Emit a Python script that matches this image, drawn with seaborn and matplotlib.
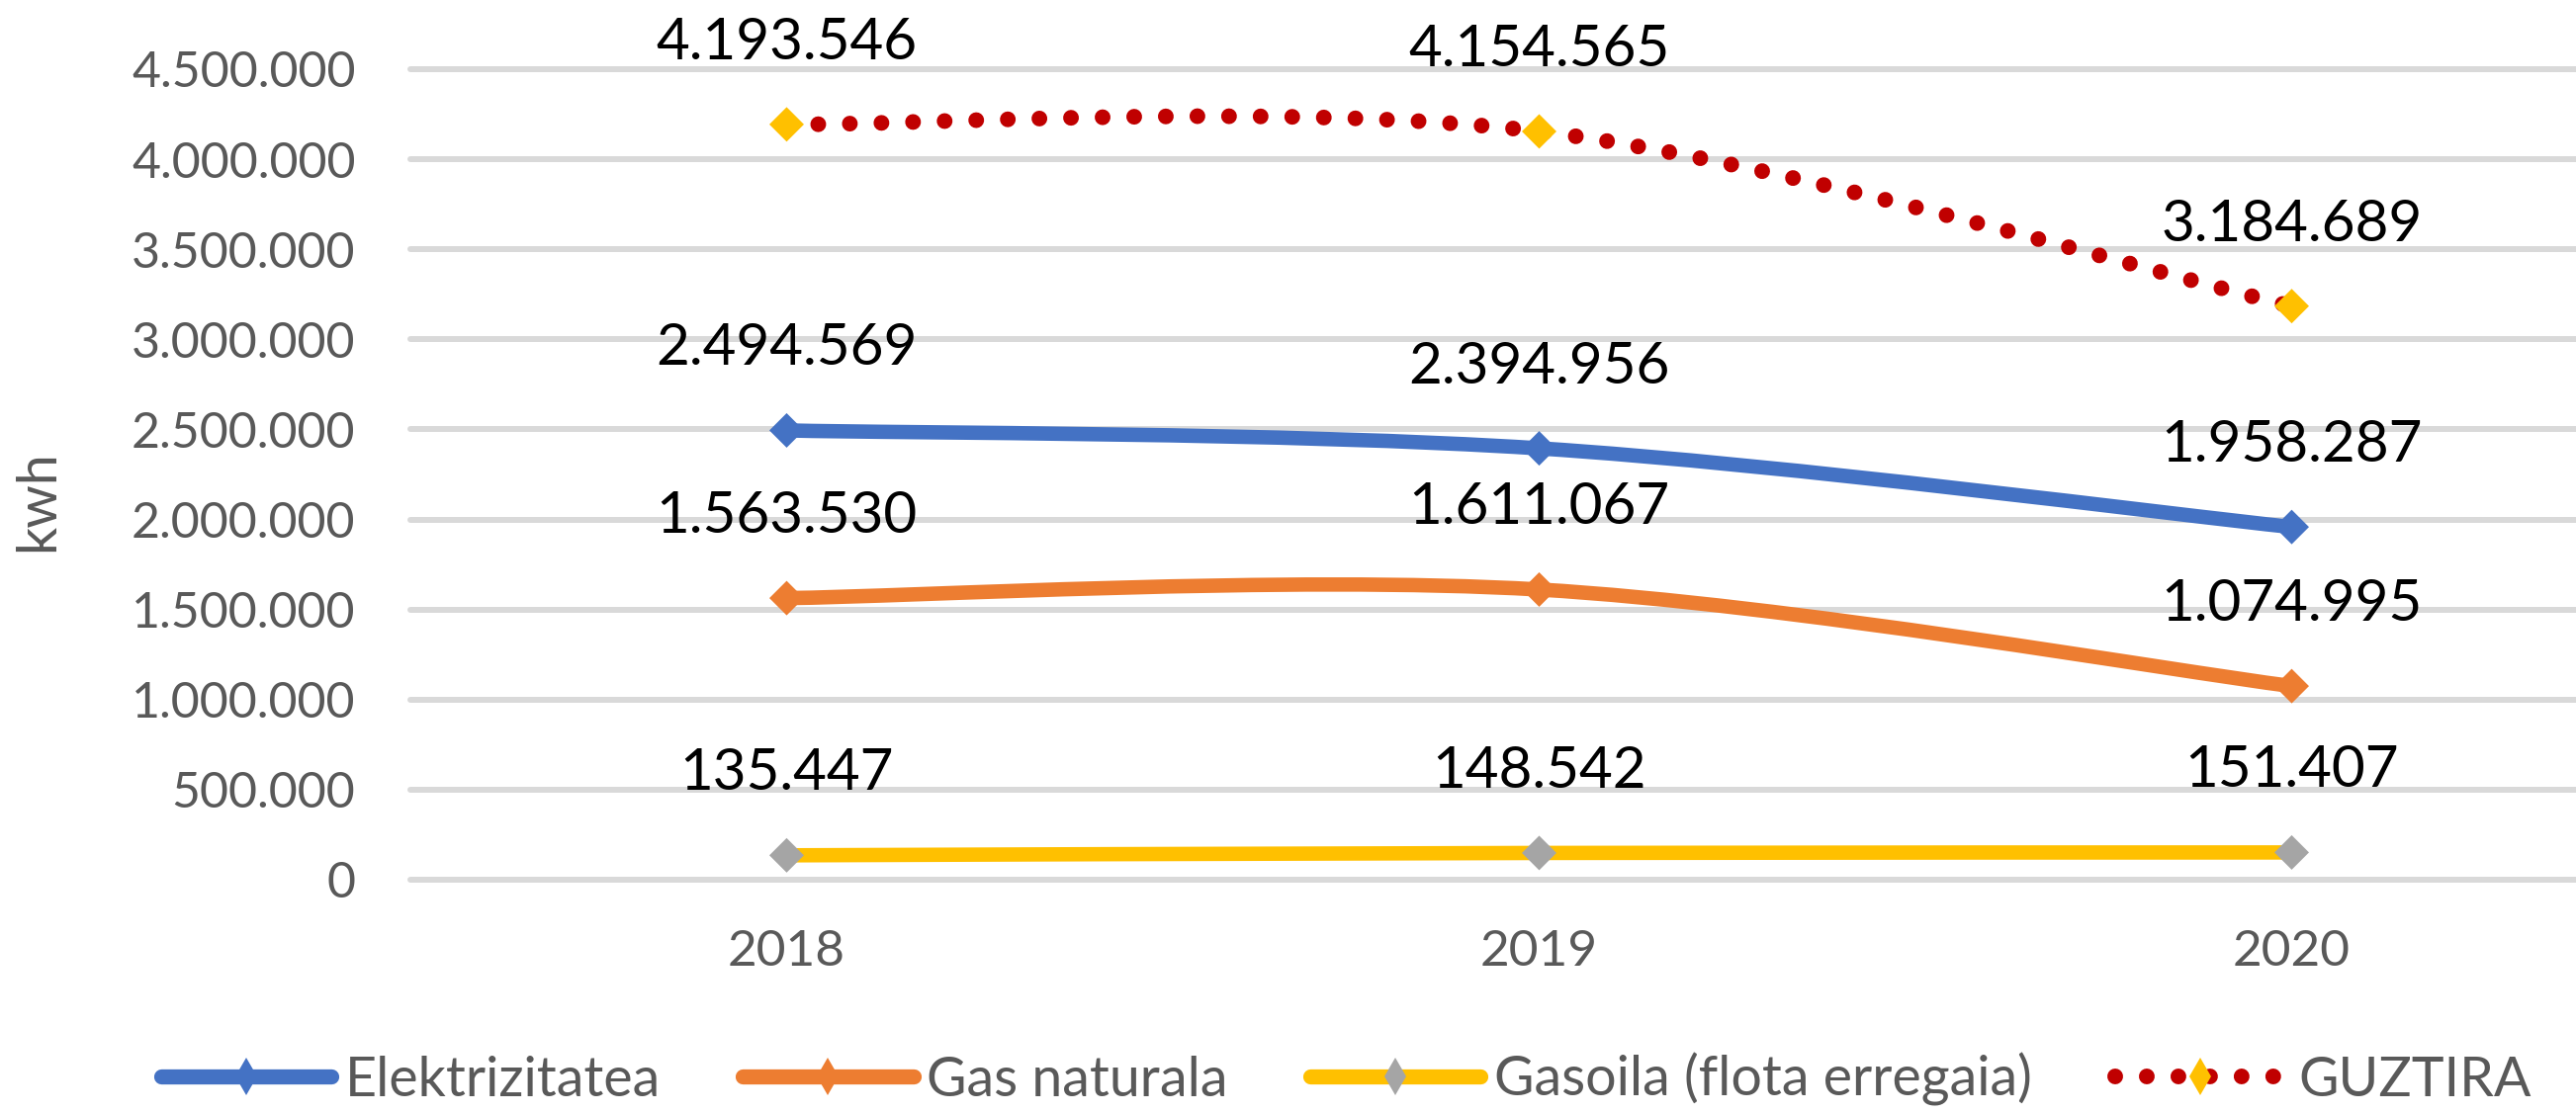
"""
Energia kontsumoa (kwh) 2018-2020 - line chart with smoothed series
"""

import numpy as np
import pandas as pd
import matplotlib
matplotlib.use('Agg')
import matplotlib.pyplot as plt
import seaborn as sns
from matplotlib.path import Path
from matplotlib.patches import PathPatch
from matplotlib.lines import Line2D
from matplotlib.ticker import FuncFormatter, MultipleLocator

# ─────────────────────────────────────────────
# DATA
# ─────────────────────────────────────────────
years = ['2018', '2019', '2020']
elektrizitatea = [2494569, 2394956, 1958287]
gas_naturala = [1563530, 1611067, 1074995]
gasoila = [135447, 148542, 151407]
guztira = [4193546, 4154565, 3184689]

series_names = ['Elektrizitatea', 'Gas naturala', 'Gasoila (flota erregaia)', 'GUZTIRA']
series_values = [elektrizitatea, gas_naturala, gasoila, guztira]

line_colors = ['#4472C4', '#ED7D31', '#FFC000', '#C00000']
marker_colors = ['#4472C4', '#ED7D31', '#A5A5A5', '#FFC000']

df = pd.DataFrame({
    'x': np.tile(np.arange(len(years)), len(series_names)),
    'year': years * len(series_names),
    'series': np.repeat(series_names, len(years)),
    'value': np.concatenate(series_values),
})

sns.set_style('white')
plt.rcParams['font.family'] = ['Lato', 'DejaVu Sans']

fig = plt.figure(figsize=(26.05, 11.26), dpi=100)
ax = fig.add_axes([415 / 2605, 236 / 1126, 2190 / 2605, 820 / 1126])


def smooth_path(xs, ys):
    # Excel-style smoothed line: Catmull-Rom segments as cubic Beziers
    pts = np.column_stack([xs, ys]).astype(float)
    n = len(pts)
    verts, codes = [pts[0]], [Path.MOVETO]
    for i in range(n - 1):
        p0 = pts[max(i - 1, 0)]
        p1 = pts[i]
        p2 = pts[i + 1]
        p3 = pts[min(i + 2, n - 1)]
        verts += [p1 + (p2 - p0) / 6, p2 - (p3 - p1) / 6, p2]
        codes += [Path.CURVE4] * 3
    return Path(verts, codes)


DOTS = (0, (0.001, 2.0))

for name, lc in zip(series_names, line_colors):
    sub = df[df['series'] == name]
    dotted = name == 'GUZTIRA'
    patch = PathPatch(smooth_path(sub['x'], sub['value']), fill=False,
                      edgecolor=lc, lw=11.5 if dotted else 10.5,
                      linestyle=DOTS if dotted else '-',
                      capstyle='round', joinstyle='round', zorder=3)
    ax.add_patch(patch)

sns.scatterplot(data=df, x='x', y='value', hue='series', hue_order=series_names,
                palette=dict(zip(series_names, marker_colors)), marker='D', s=317,
                linewidth=0, legend=False, zorder=4, ax=ax)

# data labels above points
for _, row in df.iterrows():
    ax.annotate(f"{int(row['value']):,}".replace(',', '.'), (row['x'], row['value']),
                xytext=(0, 47.5), textcoords='offset points', ha='center', va='baseline',
                fontsize=42, color='#000000', zorder=5)

# axes styling
ax.set_xlim(-0.5, -0.5 + 2190 / 761)
ax.set_ylim(0, 4500000)
ax.yaxis.set_major_locator(MultipleLocator(500000))
ax.yaxis.set_major_formatter(FuncFormatter(lambda v, p: f"{int(v):,}".replace(',', '.')))
ax.set_xticks(range(len(years)))
ax.set_xticklabels(years)
ax.tick_params(axis='x', length=0, pad=36, labelsize=37, labelcolor='#595959')
ax.tick_params(axis='y', length=0, pad=40, labelsize=36, labelcolor='#595959')
ax.set_xlabel('')
ax.set_ylabel('kwh', fontsize=40, color='#595959')
ax.yaxis.set_label_coords(-0.16, 0.467)

ax.grid(axis='y', color='#D9D9D9', linewidth=4.3)
ax.grid(axis='x', visible=False)
for gl in ax.get_ygridlines():
    gl.set_clip_on(False)
ax.set_axisbelow(True)
sns.despine(ax=ax, left=True, bottom=True)

# legend
handles = []
for name, lc, mc in zip(series_names, line_colors, marker_colors):
    dotted = name == 'GUZTIRA'
    handles.append(Line2D([], [], color=lc, lw=11.5 if dotted else 11,
                          linestyle=DOTS if dotted else '-',
                          dash_capstyle='round', solid_capstyle='round',
                          marker='d', markersize=19, markerfacecolor=mc,
                          markeredgewidth=0))
leg = fig.legend(handles, series_names, loc='center', bbox_to_anchor=(0.5226, 34 / 1126),
                 ncol=4, frameon=False, fontsize=40, handlelength=3.1,
                 handletextpad=0.25, columnspacing=1.5, numpoints=1,
                 borderpad=0.1)
for t in leg.get_texts():
    t.set_color('#595959')

plt.savefig('out.png', dpi=100)
plt.close()
